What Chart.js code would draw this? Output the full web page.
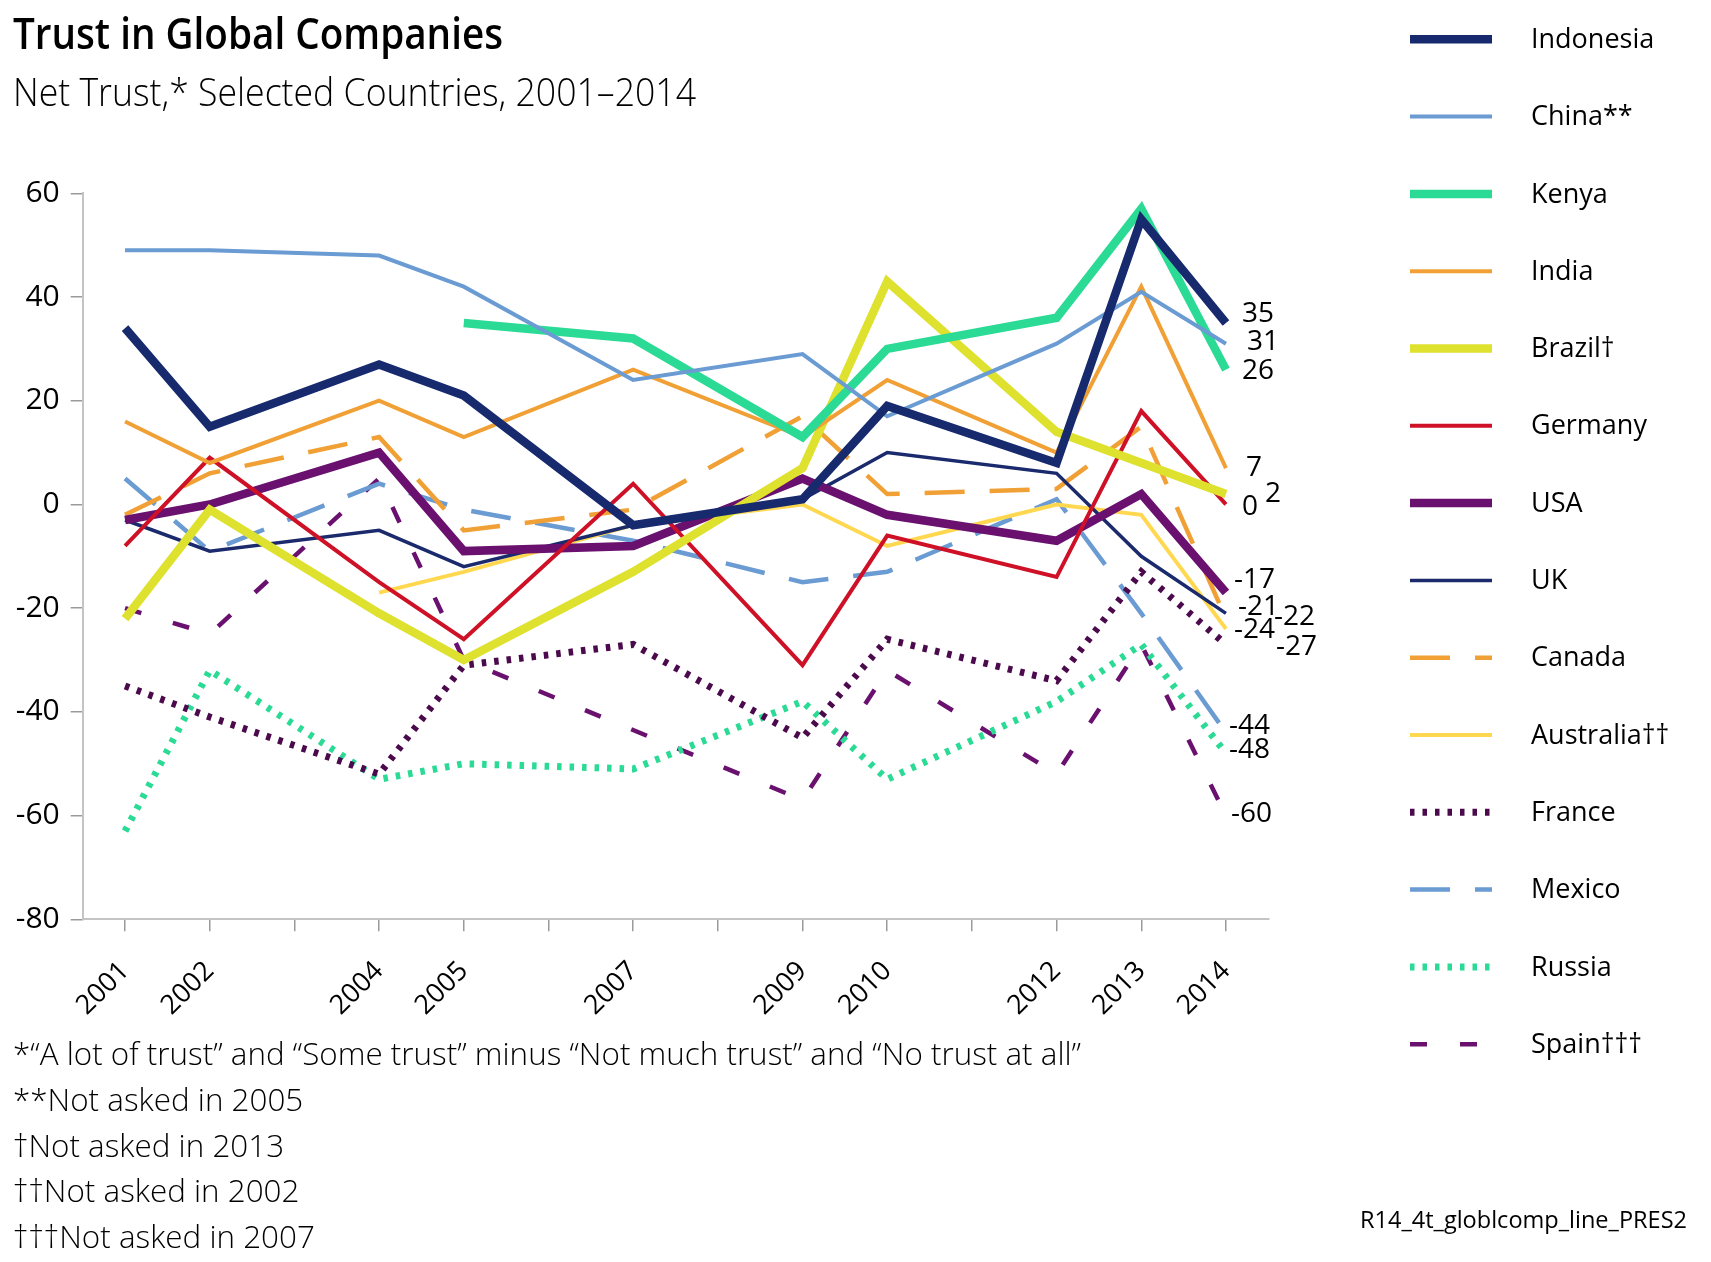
<!DOCTYPE html>
<html>
<head>
<meta charset="utf-8">
<script src="https://cdn.jsdelivr.net/npm/chart.js@4.4.0/dist/chart.umd.min.js"></script>
<style>
html,body{margin:0;padding:0;background:#fff;}
canvas{display:block;}
</style>
</head>
<body>
<canvas id="c" width="1711" height="1262"></canvas>
<script>
// ---------- DATA ----------
const years = [2001, 2002, 2004, 2005, 2007, 2009, 2010, 2012, 2013, 2014];
const tickYears = [2001, 2002, 2003, 2004, 2005, 2006, 2007, 2008, 2009, 2010, 2011, 2012, 2013, 2014];
const yTicks = [60, 40, 20, 0, -20, -40, -60, -80];

const countries = ["Indonesia", "China**", "Kenya", "India", "Brazil†", "Germany", "USA", "UK", "Canada", "Australia††", "France", "Mexico", "Russia", "Spain†††"];

const indonesia = [34, 15, 27, 21, -4, 1, 19, 8, 55, 35];
const china     = [49, 49, 48, 42, 24, 29, 17, 31, 41, 31];
const kenya     = [null, null, null, 35, 32, 13, 30, 36, 57, 26];
const india     = [16, 8, 20, 13, 26, 13, 24, 10, 42, 7];
const brazil    = [-22, -1, -21, -30, -13, 7, 43, 14, null, 2];
const germany   = [-8, 9, -15, -26, 4, -31, -6, -14, 18, 0];
const usa       = [-3, 0, 10, -9, -8, 5, -2, -7, 2, -17];
const uk        = [-3, -9, -5, -12, -4, 1, 10, 6, -10, -21];
const canada    = [-2, 6, 13, -5, -1, 17, 2, 3, 15, -22];
const australia = [null, null, -17, -13, -4, 0, -8, 0, -2, -24];
const france    = [-35, -41, -52, -31, -27, -45, -26, -34, -13, -27];
const mexico    = [5, -9, 4, -1, -7, -15, -13, 1, -21, -44];
const russia    = [-63, -32, -53, -50, -51, -38, -53, -38, -27, -48];
const spain     = [-20, -25, 5, -30, null, -57, -32, -52, -27, -60];

const seriesValues = [indonesia, china, kenya, india, brazil, germany, usa, uk, canada, australia, france, mexico, russia, spain];

const title = "Trust in Global Companies";
const subtitle = "Net Trust,* Selected Countries, 2001\u20132014";
const footnotes = [
  "*\u201CA lot of trust\u201D and \u201CSome trust\u201D minus \u201CNot much trust\u201D and \u201CNo trust at all\u201D",
  "**Not asked in 2005",
  "\u2020Not asked in 2013",
  "\u2020\u2020Not asked in 2002",
  "\u2020\u2020\u2020Not asked in 2007"
];
const sourceText = "R14_4t_globlcomp_line_PRES2";

// ---------- STYLES ----------
const colors = ["#172A6E", "#6A9BD2", "#2BDA95", "#F0A035", "#DEE12E", "#CE1126", "#6A106F", "#1A2A6C", "#F0A035", "#FFD850", "#4B0A4B", "#6A9BD2", "#2BDA95", "#6A106F"];
const widths = [8.5, 4, 8.5, 4, 8.5, 4, 8.5, 3.5, 4.5, 4, 7, 4.5, 7, 4.5];
const dashes = [[], [], [], [], [], [], [], [], [40, 25], [], [4.5, 8], [40, 25], [4.5, 8], [17, 33]];
// nudges for the end-value labels (pixels)
const labelDx = [16, 21, 16, 20, 39, 16, 8, 12, 48, 8, 50, 3, 3, 5];
const labelDy = [-9, -1.5, 1.5, 0, 0, 3, -13, -6, -1, 1, 3, -7, -3, -2];

const FONT = "'Open Sans', 'Noto Sans', sans-serif";

const datasets = countries.map((name, i) => ({
  label: name,
  data: years.map((yr, j) => ({x: yr, y: seriesValues[i][j]})),
  borderColor: colors[i],
  backgroundColor: colors[i],
  borderWidth: widths[i],
  borderDash: dashes[i],
  borderJoinStyle: 'miter',
  borderCapStyle: 'butt',
  pointRadius: 0,
  pointHoverRadius: 0,
  tension: 0,
  spanGaps: true,
  fill: false
}));

const textPlugin = {
  id: 'texts',
  afterDraw(chart) {
    const ctx = chart.ctx;
    ctx.save();
    ctx.fillStyle = '#000';
    ctx.textAlign = 'left';
    ctx.textBaseline = 'alphabetic';

    // title
    ctx.font = "600 44px " + FONT;
    let w = ctx.measureText(title).width;
    ctx.save(); ctx.translate(13, 49); ctx.scale(490 / w, 1); ctx.fillText(title, 0, 0); ctx.restore();

    // subtitle
    ctx.font = "300 38px " + FONT;
    w = ctx.measureText(subtitle).width;
    ctx.save(); ctx.translate(13, 106); ctx.scale(683 / w, 1); ctx.fillText(subtitle, 0, 0); ctx.restore();

    // footnotes
    ctx.font = "300 32px " + FONT;
    w = ctx.measureText(footnotes[0]).width;
    const fr = 1068 / w;
    const fBase = [1065, 1111, 1157, 1202, 1248];
    footnotes.forEach((t, i) => {
      ctx.save(); ctx.translate(13, fBase[i]); ctx.scale(fr, 1); ctx.fillText(t, 0, 0); ctx.restore();
    });

    // source
    ctx.font = "400 24px " + FONT;
    w = ctx.measureText(sourceText).width;
    const sr = 327 / w;
    ctx.save(); ctx.translate(1687, 1228); ctx.scale(sr, 1); ctx.textAlign = 'right'; ctx.fillText(sourceText, 0, 0); ctx.restore();

    // legend
    ctx.textBaseline = 'middle';
    ctx.font = "400 27px " + FONT;
    chart.data.datasets.forEach((ds, i) => {
      const y = 39.3 + i * 77.3;
      ctx.save();
      ctx.strokeStyle = ds.borderColor;
      ctx.lineWidth = ds.borderWidth;
      ctx.setLineDash(ds.borderDash || []);
      ctx.lineCap = 'butt';
      ctx.beginPath();
      ctx.moveTo(1410, y);
      ctx.lineTo(1492, y);
      ctx.stroke();
      ctx.restore();
      ctx.fillStyle = '#000';
      ctx.fillText(ds.label, 1531, y + 1);
    });

    // end labels
    const xs = chart.scales.x, ys = chart.scales.y;
    ctx.font = "400 28px " + FONT;
    chart.data.datasets.forEach((ds, i) => {
      const pts = ds.data.filter(p => p.y !== null);
      const last = pts[pts.length - 1];
      const x = xs.getPixelForValue(last.x) + labelDx[i];
      const y = ys.getPixelForValue(last.y) + labelDy[i];
      ctx.fillText(String(last.y), x, y);
    });
    ctx.restore();
  }
};

new Chart(document.getElementById('c'), {
  type: 'line',
  data: {datasets},
  options: {
    responsive: false,
    animation: false,
    devicePixelRatio: 1,
    layout: {padding: {top: 193.3, right: 442.7, left: 0, bottom: 0}},
    plugins: {legend: {display: false}, tooltip: {enabled: false}, title: {display: false}},
    scales: {
      x: {
        type: 'linear',
        min: 2000.5,
        max: 2014.5,
        afterBuildTicks: (ax) => { ax.ticks = tickYears.map(v => ({value: v})); },
        afterFit: (ax) => { ax.height = 1262 - 919.3; },
        ticks: {
          autoSkip: false,
          minRotation: 45,
          maxRotation: 45,
          padding: 24,
          color: '#000',
          font: {family: FONT, size: 27},
          callback: (v) => years.includes(v) ? String(v) : ''
        },
        grid: {drawOnChartArea: false, drawTicks: true, tickLength: 12, color: '#9a9a9a', lineWidth: 1.5},
        border: {display: true, color: '#c4c4c4', width: 2}
      },
      y: {
        min: -80,
        max: 60,
        afterBuildTicks: (ax) => { ax.ticks = yTicks.map(v => ({value: v})); },
        afterFit: (ax) => { ax.width = 82.7; },
        ticks: {
          padding: 11,
          color: '#000',
          font: {family: FONT, size: 30}
        },
        grid: {drawOnChartArea: false, drawTicks: true, tickLength: 12, color: '#9a9a9a', lineWidth: 1.5},
        border: {display: true, color: '#c4c4c4', width: 2}
      }
    }
  },
  plugins: [textPlugin]
});
</script>
</body>
</html>
